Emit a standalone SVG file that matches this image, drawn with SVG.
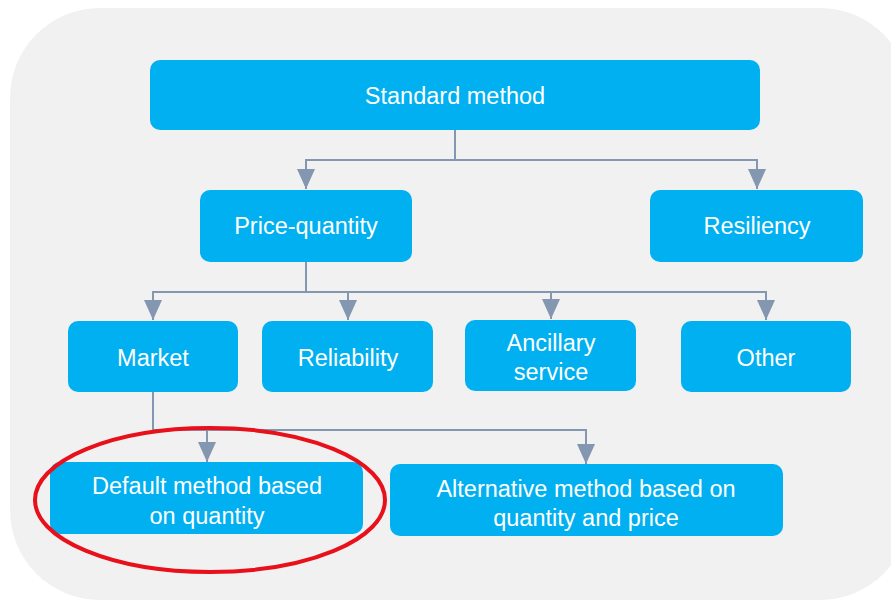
<svg xmlns="http://www.w3.org/2000/svg" width="891" height="603" viewBox="0 0 891 603">
<style>
.node rect{fill:#00B0F0;}
.node text{fill:#FFFFFF;font-family:"Liberation Sans",Arial,sans-serif;font-size:23.5px;text-anchor:middle;}
.conn path{fill:none;stroke:#8497B0;stroke-width:2;}
</style>
<defs>
<marker id="arr" viewBox="0 0 20 18" refX="20" refY="9" markerWidth="20" markerHeight="18" markerUnits="userSpaceOnUse" orient="auto">
<path d="M0,0 L20,9 L0,18 z" fill="#8497B0"/>
</marker>
</defs>
<rect x="10" y="8" width="900" height="592" rx="90" ry="90" fill="#F1F1F1"/>
<g class="conn">
<path d="M455,130 V160 H306 V189" marker-end="url(#arr)"/>
<path d="M455,160 H757 V189" marker-end="url(#arr)"/>
<path d="M306,262 V292 H153 V320" marker-end="url(#arr)"/>
<path d="M306,292 H348 V320" marker-end="url(#arr)"/>
<path d="M306,292 H551 V319" marker-end="url(#arr)"/>
<path d="M551,292 H766 V320" marker-end="url(#arr)"/>
<path d="M153,392 V430 H207 V462" marker-end="url(#arr)"/>
<path d="M207,430 H586 V464" marker-end="url(#arr)"/>
</g>
<g id="standard" class="node"><rect x="150" y="60" width="610" height="70" rx="10"/><text x="455" y="104">Standard method</text></g>
<g id="price" class="node"><rect x="200" y="190" width="212" height="72" rx="10"/><text x="306" y="234">Price-quantity</text></g>
<g id="resiliency" class="node"><rect x="650" y="190" width="213" height="72" rx="10"/><text x="757" y="234">Resiliency</text></g>
<g id="market" class="node"><rect x="68" y="321" width="170" height="71" rx="10"/><text x="153" y="366">Market</text></g>
<g id="reliability" class="node"><rect x="262" y="321" width="171" height="71" rx="10"/><text x="348" y="366">Reliability</text></g>
<g id="ancillary" class="node"><rect x="465" y="320" width="171" height="71" rx="10"/><text x="551" y="351">Ancillary</text><text x="551" y="380">service</text></g>
<g id="other" class="node"><rect x="681" y="321" width="170" height="71" rx="10"/><text x="766" y="366">Other</text></g>
<g id="default" class="node"><rect x="50" y="462" width="313" height="72" rx="10"/><text x="207" y="494">Default method based</text><text x="207" y="524">on quantity</text></g>
<g id="alternative" class="node"><rect x="390" y="464" width="393" height="72" rx="10"/><text x="586" y="497">Alternative method based on</text><text x="586" y="526">quantity and price</text></g>
<ellipse id="highlight" cx="210" cy="500" rx="175" ry="72" fill="none" stroke="#E8101A" stroke-width="4"/>
</svg>
